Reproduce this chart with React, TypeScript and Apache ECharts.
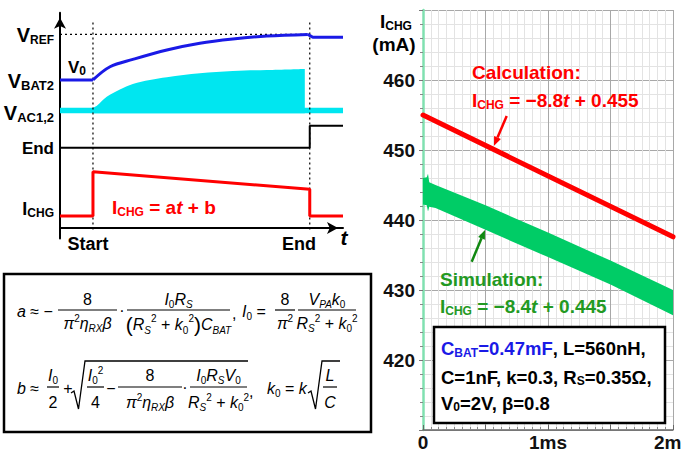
import React, { useEffect, useRef } from 'react';
import * as echarts from 'echarts';

const FONT = '"Liberation Sans", Arial, Helvetica, sans-serif';

// ---------- Right chart: measured charging current (mA) vs time (ms) ----------
const simTime = [0, 0.03, 0.04, 0.05, 0.1, 0.5, 1.0, 1.5, 2.0];
const simUpper = [446.0, 446.1, 446.6, 445.4, 445.0, 442.1, 438.2, 434.2, 430.0];
const simLower = [442.2, 442.1, 441.2, 441.9, 441.7, 438.6, 434.7, 430.8, 426.4];
const calcTime = [0, 2];
const calcValue = [455.0, 437.6];
const xTickLabels: Record<string, string> = { '0': '0', '1': '1ms', '2': '2ms' };
const yTickLabels = [420, 430, 440, 450, 460];

// ---------- Left timing diagram (schematic units) ----------
const tStart = 1.2;
const tEnd = 9.09;
const blueFlatT = [0, 1.2];
const blueFlatV = [7.05, 7.05];
const blueRiseT = [1.2, 1.82, 2.65, 3.89, 5.09, 6.29, 7.53, 9.02];
const blueRiseV = [7.05, 7.68, 8.03, 8.48, 8.8, 9.0, 9.14, 9.22];
const blueEndT = [9.02, 9.2, 10.3];
const blueEndV = [9.22, 9.08, 9.08];
const vRef = 9.22;
const cyanBandT = [0, 10.3];
const cyanBandV = [5.73, 5.73];
const cyanBase = 5.46;
const cyanFillT = [1.2, 1.33, 1.7, 2.18, 2.65, 3.27, 3.89, 5.09, 6.29, 7.53, 8.91];
const cyanFillV = [5.73, 5.81, 6.25, 6.6, 6.86, 7.05, 7.18, 7.37, 7.48, 7.52, 7.57];
const endSigT = [0, 9.09, 9.09, 10.3];
const endSigV = [3.82, 3.82, 4.87, 4.87];
const ichgT = [0, 1.2, 1.2, 9.09, 9.09, 10.3];
const ichgV = [0.57, 0.57, 2.68, 1.84, 0.57, 0.57];
const dashTop = 9.78;
const dashBottom = -0.1;

const zip = (a: number[], b: number[]) => a.map((x, i) => [x, b[i]]);

const RED = '#ff0000';
const GREEN_TXT = '#229922';
const GREEN_BAND = '#00cc66';
const CYAN = '#00e6f0';
const BLUE = '#1a1ae6';

const lblRich = (c: string, M: number, S: number) => ({
  b: { fontFamily: FONT, fontWeight: 'bold', fontSize: M, lineHeight: M + 2, fill: c, color: c },
  bi: { fontFamily: FONT, fontWeight: 'bold', fontStyle: 'italic', fontSize: M, lineHeight: M + 2, fill: c, color: c },
  s: { fontFamily: FONT, fontWeight: 'bold', fontSize: S, lineHeight: S + 3, verticalAlign: 'bottom', fill: c, color: c },
});

const fr = {
  i: { fontFamily: FONT, fontStyle: 'italic', fontSize: 16, lineHeight: 20, fill: '#000', color: '#000' },
  n: { fontFamily: FONT, fontSize: 16, lineHeight: 20, fill: '#000', color: '#000' },
  p: { fontFamily: FONT, fontSize: 21, lineHeight: 22, fill: '#000', color: '#000' },
  sb: { fontFamily: FONT, fontStyle: 'italic', fontSize: 10, lineHeight: 11, verticalAlign: 'bottom', fill: '#000', color: '#000' },
  s0: { fontFamily: FONT, fontSize: 10, lineHeight: 11, verticalAlign: 'bottom', fill: '#000', color: '#000' },
  sp: { fontFamily: FONT, fontSize: 10, lineHeight: 11, verticalAlign: 'top', fill: '#000', color: '#000' },
};

function txt(x: number, y: number, text: string, rich: any, align = 'left', z = 101) {
  return { type: 'text', x, y, z, silent: true, style: { text, rich, align, verticalAlign: 'middle' } };
}
function ln(x1: number, y1: number, x2: number, y2: number, stroke = '#000', lineWidth = 1.2, z = 101) {
  return { type: 'line', z, silent: true, shape: { x1, y1, x2, y2 }, style: { stroke, lineWidth } };
}
function pline(points: number[][], stroke = '#000', lineWidth = 1.3) {
  return { type: 'polyline', z: 101, silent: true, shape: { points }, style: { stroke, lineWidth, fill: 'none' } };
}
function poly(points: number[][], fill: string) {
  return { type: 'polygon', z: 101, silent: true, shape: { points }, style: { fill } };
}

function buildGraphic() {
  const g: any[] = [];
  // left diagram labels
  g.push(txt(54, 34.5, '{b|V}{s|REF}', lblRich('#000', 20, 12), 'right'));
  g.push(txt(54, 81, '{b|V}{s|BAT2}', lblRich('#000', 20, 13), 'right'));
  g.push(txt(54, 113, '{b|V}{s|AC1,2}', lblRich('#000', 20, 13), 'right'));
  g.push(txt(54, 148, '{b|End}', lblRich('#000', 17, 12), 'right'));
  g.push(txt(54, 209, '{b|I}{s|CHG}', lblRich('#000', 18, 12), 'right'));
  g.push(txt(68, 67, '{b|V}{s|0}', lblRich('#000', 17, 12)));
  g.push(txt(112, 207, '{b|I}{s|CHG}{b| = a}{bi|t}{b| + b}', lblRich(RED, 19, 12)));
  g.push(txt(88, 243.5, '{b|Start}', lblRich('#000', 18, 12), 'center'));
  g.push(txt(299, 243.5, '{b|End}', lblRich('#000', 18, 12), 'center'));
  g.push(txt(344, 237, '{bi|t}', lblRich('#000', 21, 12), 'center'));

  // right chart labels
  g.push(txt(380, 21, '{b|I}{s|CHG}', lblRich('#000', 19, 12)));
  g.push(txt(394, 44, '{b|(mA)}', lblRich('#000', 19, 12), 'center'));
  g.push(txt(472, 72.7, '{b|Calculation:}', lblRich(RED, 19, 12)));
  g.push(txt(472, 100, '{b|I}{s|CHG}{b| = \u22128.8}{bi|t}{b| + 0.455}', lblRich(RED, 19, 12)));
  g.push(txt(440, 279.5, '{b|Simulation:}', lblRich(GREEN_TXT, 19, 12)));
  g.push(txt(440, 306, '{b|I}{s|CHG}{b| = \u22128.4}{bi|t}{b| + 0.445}', lblRich(GREEN_TXT, 19, 12)));
  // arrows
  g.push(ln(506.7, 116, 497.5, 137.4, RED, 2.5));
  g.push(poly([[494, 145.7], [500.9, 138.9], [494.1, 135.9]], RED));
  g.push(ln(471.7, 261.7, 481.5, 238.3, '#118811', 2.5));
  g.push(poly([[485, 230], [484.9, 239.8], [478.1, 236.9]], '#118811'));

  // parameter box
  g.push({ type: 'rect', z: 100, silent: true, shape: { x: 434, y: 327, width: 231, height: 96 }, style: { fill: '#fff', stroke: '#000', lineWidth: 2.5 } });
  const pr: any = { ...lblRich('#000', 18.5, 12) };
  pr.bb = { ...pr.b, fill: BLUE, color: BLUE };
  pr.bs = { ...pr.s, fill: BLUE, color: BLUE };
  g.push(txt(441, 348.5, '{bb|C}{bs|BAT}{bb|=0.47mF}{b|, L=560nH,}', pr));
  g.push(txt(441, 377, '{b|C=1nF, k=0.3, R}{s|S}{b|=0.35\u03a9,}', pr));
  g.push(txt(441, 403, '{b|V}{s|0}{b|=2V, \u03b2=0.8}', pr));

  // formula box
  g.push({ type: 'rect', z: 100, silent: true, shape: { x: 4, y: 274, width: 367, height: 158 }, style: { fill: '#fff', stroke: '#000', lineWidth: 2.5 } });
  const den1 = '{i|\u03c0}{sp|2}{i|\u03b7}{sb|RX}{i|\u03b2}';
  const rsk = '{i|R}{sb|S}{sp|2}{n| + }{i|k}{s0|0}{sp|2}';
  // line 1
  g.push(txt(17, 311, '{i|a}{n| \u2248 \u2212}', fr));
  g.push(ln(58, 310, 117, 310));
  g.push(txt(87.5, 299, '{n|8}', fr, 'center'));
  g.push(txt(87.5, 323, den1, fr, 'center'));
  g.push(txt(122, 310, '{n|\u00b7}', fr, 'center'));
  g.push(ln(127, 310, 230, 310));
  g.push(txt(178.5, 299, '{i|I}{s0|0}{i|R}{sb|S}', fr, 'center'));
  g.push(txt(178.5, 324, '{p|(}' + rsk + '{p|)}{i|C}{sb|BAT}', fr, 'center'));
  g.push(txt(232, 313, '{n|,}', fr));
  g.push(txt(242, 311, '{i|I}{s0|0}{n| = }', fr));
  g.push(ln(275, 310, 295, 310));
  g.push(txt(285, 299, '{n|8}', fr, 'center'));
  g.push(txt(285, 323, '{i|\u03c0}{sp|2}', fr, 'center'));
  g.push(ln(298, 310, 356, 310));
  g.push(txt(327, 299, '{i|V}{sb|PA}{i|k}{s0|0}', fr, 'center'));
  g.push(txt(327, 323, rsk, fr, 'center'));
  // line 2
  g.push(txt(17, 388, '{i|b}{n| \u2248}', fr));
  g.push(ln(47, 387, 59, 387));
  g.push(txt(53, 375, '{i|I}{s0|0}', fr, 'center'));
  g.push(txt(53, 402, '{n|2}', fr, 'center'));
  g.push(txt(68, 388, '{n|+}', fr, 'center'));
  g.push(pline([[71, 393], [74, 391], [78.5, 409], [85, 361], [248, 361]]));
  g.push(ln(87, 387, 104, 387));
  g.push(txt(95.5, 375, '{i|I}{s0|0}{sp|2}', fr, 'center'));
  g.push(txt(95.5, 402, '{n|4}', fr, 'center'));
  g.push(txt(111, 388, '{n|\u2212}', fr, 'center'));
  g.push(ln(118, 387, 182, 387));
  g.push(txt(150, 375, '{n|8}', fr, 'center'));
  g.push(txt(150, 402, den1, fr, 'center'));
  g.push(txt(185, 387, '{n|\u00b7}', fr, 'center'));
  g.push(ln(190, 387, 247, 387));
  g.push(txt(218.5, 375, '{i|I}{s0|0}{i|R}{sb|S}{i|V}{s0|0}', fr, 'center'));
  g.push(txt(218.5, 402, rsk, fr, 'center'));
  g.push(txt(249, 391, '{n|,}', fr));
  g.push(txt(267, 388, '{i|k}{s0|0}{n| = }{i|k}', fr));
  g.push(pline([[308, 393], [311, 391], [315.5, 409], [322, 361], [340, 361]]));
  g.push(ln(323, 387, 337, 387));
  g.push(txt(330, 375, '{i|L}', fr, 'center'));
  g.push(txt(330, 402, '{i|C}', fr, 'center'));
  return g;
}

function buildOption() {
  const L = { type: 'line', xAxisIndex: 0, yAxisIndex: 0, symbol: 'none', silent: true, clip: false };
  const R = { type: 'line', xAxisIndex: 1, yAxisIndex: 1, symbol: 'none', silent: true };
  const dash = { color: '#000', width: 1.2, type: [2, 3] };
  const labelFont = { fontFamily: FONT, fontWeight: 'bold', fontSize: 19, color: '#111' };
  return {
    animation: false,
    backgroundColor: '#fff',
    grid: [
      { left: 60, top: 12.75, width: 283, height: 225.75, containLabel: false, outerBoundsMode: 'none' },
      { left: 423, top: 10, width: 250, height: 420, containLabel: false, outerBoundsMode: 'none' },
    ],
    xAxis: [
      {
        gridIndex: 0, type: 'value', min: 0, max: 10.3,
        axisLine: { show: true, onZero: true, lineStyle: { color: '#000', width: 2 }, symbol: ['none', 'arrow'], symbolSize: [9, 11], symbolOffset: [0, -5] },
        axisTick: { show: false }, axisLabel: { show: false }, splitLine: { show: false },
      },
      {
        gridIndex: 1, type: 'value', min: 0, max: 2, interval: 0.5,
        axisLine: { show: true, onZero: false, lineStyle: { color: '#666', width: 1.5 } },
        axisTick: { show: true, inside: true, length: 5, lineStyle: { color: '#666' } },
        minorTick: { show: true, splitNumber: 8, length: 3, lineStyle: { color: '#888' } },
        splitLine: { show: true, lineStyle: { color: '#a8a8a8', width: 1 } },
        minorSplitLine: { show: true, lineStyle: { color: '#e3e3e3', width: 1 } },
        axisLabel: { ...labelFont, margin: 3, showMinLabel: true, showMaxLabel: true, hideOverlap: false, formatter: (v: number) => xTickLabels[String(v)] ?? '' },
      },
    ],
    yAxis: [
      {
        gridIndex: 0, type: 'value', min: -0.5, max: 10.25,
        axisLine: { show: true, onZero: true, lineStyle: { color: '#000', width: 2 }, symbol: ['none', 'arrow'], symbolSize: [9, 11], symbolOffset: [0, -5] },
        axisTick: { show: false }, axisLabel: { show: false }, splitLine: { show: false },
      },
      {
        gridIndex: 1, type: 'value', min: 410, max: 470, interval: 10,
        axisLine: { show: true, onZero: false, lineStyle: { color: '#80e0b0', width: 2.5 } },
        axisTick: { show: true, inside: false, length: 4, lineStyle: { color: '#777' } },
        minorTick: { show: true, splitNumber: 5, length: 3, lineStyle: { color: '#888' } },
        splitLine: { show: true, lineStyle: { color: '#a8a8a8', width: 1 } },
        minorSplitLine: { show: true, lineStyle: { color: '#e3e3e3', width: 1 } },
        axisLabel: { ...labelFont, margin: 8, showMinLabel: true, showMaxLabel: true, formatter: (v: number) => (yTickLabels.includes(v) ? String(v) : '') },
      },
    ],
    series: [
      { ...L, data: zip(cyanBandT, cyanBandV), lineStyle: { opacity: 0 }, areaStyle: { color: CYAN, opacity: 1, origin: cyanBase } },
      { ...L, data: zip(cyanFillT, cyanFillV), smooth: 0.35, lineStyle: { opacity: 0 }, areaStyle: { color: CYAN, opacity: 1, origin: cyanBase } },
      { ...L, data: [[tStart, dashTop], [tStart, dashBottom]], lineStyle: dash },
      { ...L, data: [[tEnd, dashTop], [tEnd, dashBottom]], lineStyle: dash },
      { ...L, data: [[0, vRef], [tEnd, vRef]], lineStyle: dash },
      { ...L, data: zip(blueFlatT, blueFlatV), lineStyle: { color: BLUE, width: 3 } },
      { ...L, data: zip(blueRiseT, blueRiseV), smooth: 0.35, lineStyle: { color: BLUE, width: 3 } },
      { ...L, data: zip(blueEndT, blueEndV), lineStyle: { color: BLUE, width: 3 } },
      { ...L, data: zip(endSigT, endSigV), lineStyle: { color: '#000', width: 2 } },
      { ...L, data: zip(ichgT, ichgV), lineStyle: { color: RED, width: 3 } },

      {
        type: 'custom', xAxisIndex: 1, yAxisIndex: 1, silent: true, clip: true,
        data: [0],
        renderItem: (_p: any, api: any) => {
          const top = simTime.map((t, i) => api.coord([t, simUpper[i]]));
          const bot = simTime.map((t, i) => api.coord([t, simLower[i]])).reverse();
          return { type: 'polygon', shape: { points: top.concat(bot) }, style: { fill: GREEN_BAND } };
        },
      },
      { ...R, data: zip(calcTime, calcValue), lineStyle: { color: RED, width: 5, cap: 'round' } },
    ],
    graphic: buildGraphic(),
  };
}

export default function App() {
  const ref = useRef<HTMLDivElement>(null);
  useEffect(() => {
    const chart = echarts.init(ref.current!, null, { renderer: 'svg' });
    chart.setOption(buildOption() as any);
    return () => chart.dispose();
  }, []);
  return <div ref={ref} style={{ position: 'fixed', left: 0, top: 0, width: 681, height: 455, background: '#fff' }} />;
}
